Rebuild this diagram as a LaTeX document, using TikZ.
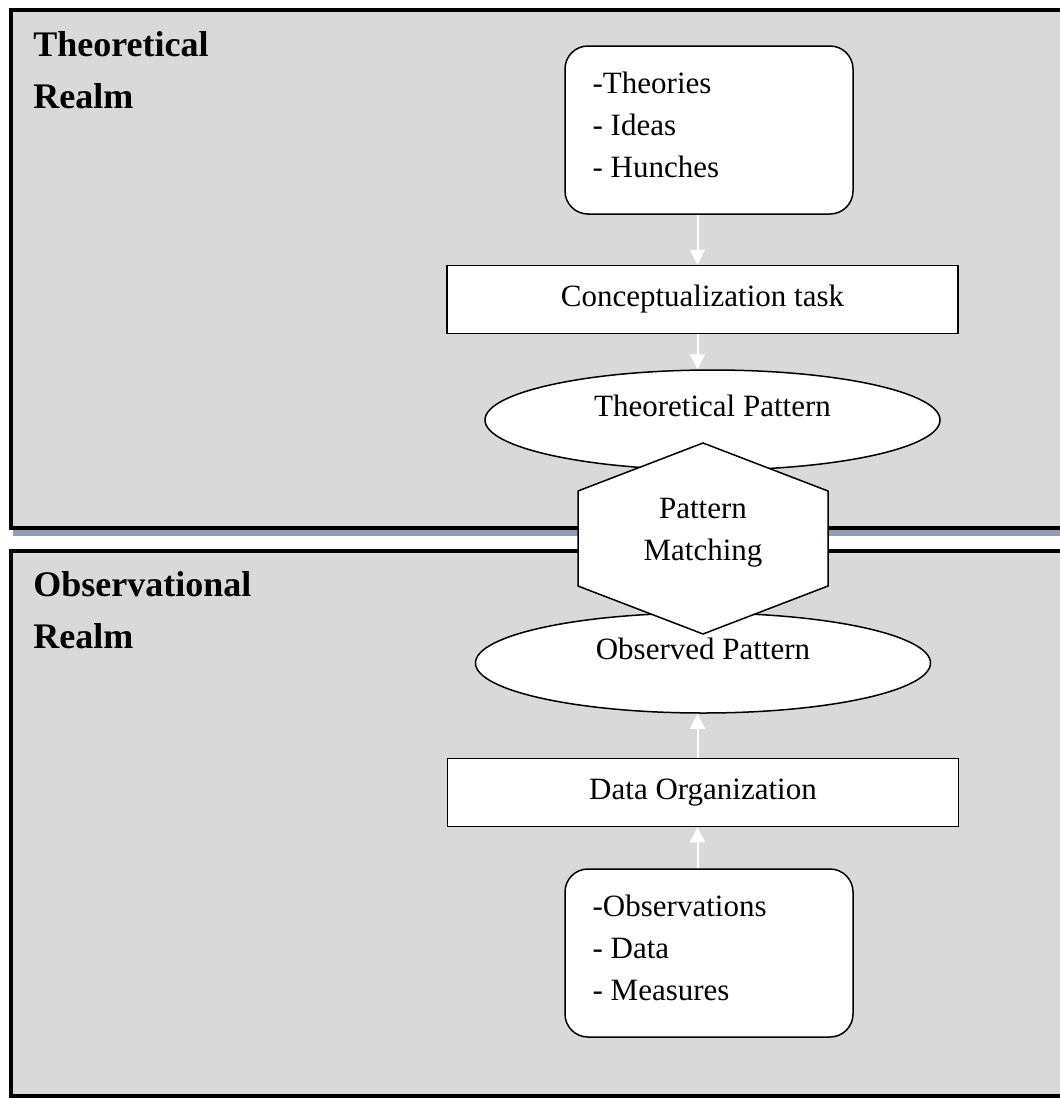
\documentclass[tikz,border=0pt]{standalone}
\usepackage{fontspec}
\setmainfont{Liberation Serif}
\usepackage{tikz}
\usetikzlibrary{positioning,arrows.meta,shapes.geometric,calc}
\definecolor{realmgray}{RGB}{217,217,217}
\definecolor{realmshade}{RGB}{141,157,178}
\tikzset{
  realm/.style={draw,line width=2pt,fill=realmgray},
  realmshadow/.style={fill=realmshade},
  realmlabel/.style={anchor=north west,inner sep=0pt,align=left,
            font=\fontsize{18}{26}\selectfont\bfseries},
  listbox/.style={draw,line width=0.75pt,fill=white,rounded corners=11.5pt,
            minimum width=144pt,minimum height=84pt},
  listtext/.style={anchor=north west,inner sep=0pt,align=left,
            font=\fontsize{15.5}{21}\selectfont},
  taskbox/.style={draw,line width=0.75pt,fill=white,minimum width=255.5pt,
            minimum height=34pt,font=\fontsize{15.5}{21}\selectfont},
  patt/.style={draw,line width=0.75pt,fill=white,ellipse,inner sep=0pt,
            minimum width=227.5pt,minimum height=50pt,text depth=14pt,
            font=\fontsize{15.5}{21}\selectfont},
  hexline/.style={draw,line width=0.75pt,fill=white},
  hextext/.style={anchor=north,inner sep=0pt,align=center,
            font=\fontsize{15.5}{21}\selectfont},
  flow/.style={-{Triangle[width=7.5pt,length=7.5pt]},line width=1pt,white},
}
\begin{document}
\begin{tikzpicture}[x=0.5pt,y=-0.5pt]
  \useasboundingbox (0,0) rectangle (1060,1098);
  % the two realms
  \fill[realmshadow] (13,14) rectangle (1104,536);
  \draw[realm] (11,10) rectangle (1100,528);
  \fill[realmshadow] (13,555) rectangle (1104,1102);
  \draw[realm] (11,551) rectangle (1100,1096);
  \node[realmlabel] (thlab) at (33,31) {Theoretical\\Realm};
  \node[realmlabel] (oblab) at (33,571) {Observational\\Realm};
  \coordinate (axis) at (697.5,0);
  % theoretical side
  \node[listbox] (ideas) at (709,130) {};
  \node[listtext] (ideastxt) at ($(ideas.north west)+(28,26)$)
        {-Theories\\- Ideas\\- Hunches};
  \node[taskbox,below=25pt of ideas,xshift=-3.25pt] (concept) {Conceptualization task};
  \node[patt,below=17.5pt of concept,xshift=5pt] (theo) {Theoretical Pattern};
  % observational side
  \node[patt] (obs) at (703,663) {Observed Pattern};
  \node[taskbox,below=22pt of obs] (data) {Data Organization};
  \node[listbox,below=20.5pt of data,xshift=3pt] (facts) {};
  \node[listtext] (factstxt) at ($(facts.north west)+(28,26)$)
        {-Observations\\- Data\\- Measures};
  % pattern matching across both realms
  \coordinate (mc) at (703,538.5);
  \draw[hexline] ($(mc)+(0,-95.5)$) -- ++(125,48) -- ++(0,95) -- ++(-125,48)
        -- ++(-125,-48) -- ++(0,-95) -- cycle;
  \node[hextext] (match) at ($(mc)+(0,-41)$) {Pattern\\Matching};
  % flows
  \draw[flow] (ideas.south -| axis) -- (concept.north -| axis);
  \draw[flow] (concept.south -| axis) -- (theo.north -| axis);
  \draw[flow] (facts.north -| axis) -- (data.south -| axis);
  \draw[flow] (data.north -| axis) -- (obs.south -| axis);
\end{tikzpicture}
\end{document}
